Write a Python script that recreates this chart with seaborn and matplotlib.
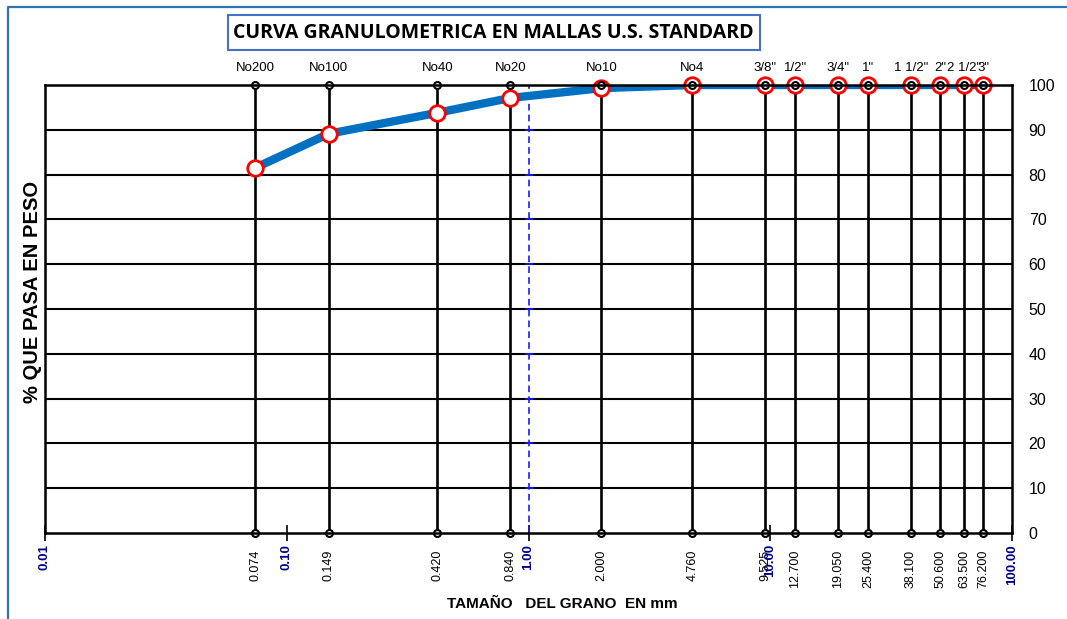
import matplotlib
matplotlib.use("Agg")
import matplotlib.pyplot as plt
import matplotlib.transforms as mtransforms
from matplotlib.patches import Rectangle
from matplotlib.lines import Line2D
import seaborn as sns
import pandas as pd

# Sieve data (U.S. Standard mesh)
sieve_names = ["No200", "No100", "No40", "No20", "No10", "No4", '3/8"', '1/2"',
               '3/4"', '1"', '1 1/2"', '2"', '2 1/2"', '3"']
sieve_mm = [0.074, 0.149, 0.420, 0.840, 2.000, 4.760, 9.525, 12.700,
            19.050, 25.400, 38.100, 50.600, 63.500, 76.200]
sieve_labels = ["0.074", "0.149", "0.420", "0.840", "2.000", "4.760", "9.525",
                "12.700", "19.050", "25.400", "38.100", "50.600", "63.500", "76.200"]
percent_passing = [81.5, 89.1, 93.8, 97.1, 99.3, 100, 100, 100,
                   100, 100, 100, 100, 100, 100]

decade_ticks = [0.01, 0.1, 1, 10, 100]
decade_labels = ["0.01", "0.10", "1.00", "10.00", "100.00"]
y_ticks = [0, 10, 20, 30, 40, 50, 60, 70, 80, 90, 100]

title_text = "CURVA GRANULOMETRICA EN MALLAS U.S. STANDARD"
x_title = "TAMAÑO   DEL GRANO  EN mm"
y_title = "% QUE PASA EN PESO"

sns.set_style("white")
plt.rcParams["font.family"] = ["Liberation Sans", "DejaVu Sans"]
plt.rcParams["text.color"] = "black"
plt.rcParams["xtick.color"] = "black"
plt.rcParams["ytick.color"] = "black"
plt.rcParams["axes.labelcolor"] = "black"

W, H = 1067, 619
fig = plt.figure(figsize=(W / 100, H / 100), dpi=100)
ax = fig.add_axes([45 / W, 1 - 533 / H, (1012 - 45) / W, (533 - 85) / H])

df = pd.DataFrame({"mm": sieve_mm, "pasa": percent_passing})

ax.set_xscale("log")
ax.set_xlim(0.01, 100)
ax.set_ylim(0, 100)

# horizontal grid
for yv in y_ticks[1:-1]:
    ax.axhline(yv, color="black", lw=1.5, zorder=1)

# sieve verticals
ax.vlines(sieve_mm, 0, 100, color="black", lw=1.9, zorder=2)

# dashed reference at 1 mm
ax.axvline(1.0, color="#1a1aff", lw=1.2, ls=(0, (4, 2.5)), zorder=2)
ax.scatter([1.0] * 9, y_ticks[1:-1], marker="_", s=40, color="#1a1aff",
           linewidths=1.2, zorder=2)

# grading curve
sns.lineplot(data=df, x="mm", y="pasa", ax=ax, color="#0070C0", lw=6,
             zorder=3, legend=False, solid_capstyle="butt")
sns.scatterplot(data=df, x="mm", y="pasa", ax=ax, s=125, facecolor="white",
                edgecolor="#ff0000", linewidth=2, zorder=4, legend=False,
                clip_on=False)

# small circles at both ends of each sieve line
for yv in (0, 100):
    ax.plot(sieve_mm, [yv] * len(sieve_mm), ls="none", marker="o", ms=5,
            mfc="white", mec="black", mew=1.5, zorder=5, clip_on=False)

for sp in ax.spines.values():
    sp.set_color("black")
    sp.set_linewidth(1.8)
    sp.set_zorder(6)

# x ticks: decades in bold navy
ax.set_xticks(decade_ticks)
ax.set_xticklabels(decade_labels, rotation=90, color="#00008B",
                   fontweight="bold", fontsize=9.5)
ax.xaxis.set_minor_locator(matplotlib.ticker.NullLocator())
ax.tick_params(axis="x", which="major", direction="inout", length=12,
               width=1.2, color="black", pad=2, bottom=True)

# y ticks on right
ax.yaxis.tick_right()
ax.set_yticks(y_ticks)
ax.set_yticklabels([str(v) for v in y_ticks], fontsize=11.5)
ax.tick_params(axis="y", length=0, pad=12, right=True, left=False)
ax.set_xlabel("")
ax.set_ylabel("")

# sieve sizes below, names above
trans = mtransforms.blended_transform_factory(ax.transData, ax.transAxes)
for mm, lab, name in zip(sieve_mm, sieve_labels, sieve_names):
    ax.text(mm, -0.038, lab, transform=trans, rotation=90, ha="center",
            va="top", fontsize=9)
    ax.text(mm, 1.025, name, transform=trans, ha="center", va="bottom",
            fontsize=9.5)

# axis titles
fig.text(562 / W, 1 - 604 / H, x_title, ha="center", va="center",
         fontsize=11, fontweight="bold")
fig.text(33 / W, 1 - 292 / H, y_title, ha="center", va="center",
         rotation=90, fontsize=14.5, fontweight="bold")

# chart title in a framed box
fig.patches.append(Rectangle((228 / W, 1 - 50 / H), (760 - 228) / W, 35 / H,
                             transform=fig.transFigure, fill=False,
                             edgecolor="#4472C4", lw=1.5))
fig.text(493 / W, 1 - 33 / H, title_text, ha="center", va="center",
         fontsize=14, fontweight="bold", family=["Open Sans", "DejaVu Sans"])

# chart area border
fig.lines.append(Line2D([8 / W, 8 / W, 1.0], [0.0, 1 - 7 / H, 1 - 7 / H],
                        transform=fig.transFigure, color="#2E75B6", lw=1.6))

fig.savefig("out.png", dpi=100, facecolor="white")
